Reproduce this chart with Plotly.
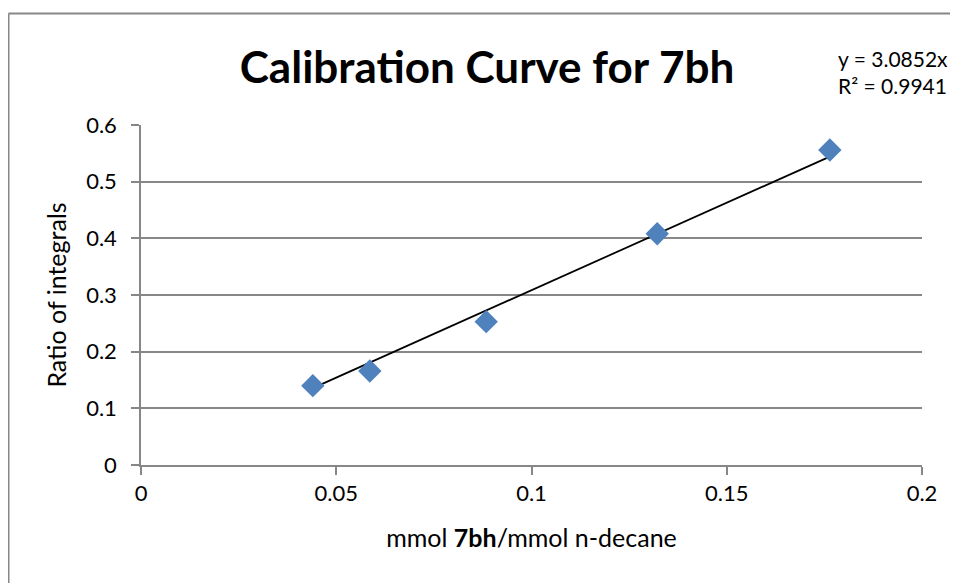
import plotly.graph_objects as go

x_vals = [0.0440, 0.0586, 0.0884, 0.1322, 0.1764]
y_vals = [0.140, 0.166, 0.253, 0.408, 0.556]
slope = 3.0852
r2 = 0.9941
x_ticks = [0, 0.05, 0.1, 0.15, 0.2]
x_tick_labels = ["0", "0.05", "0.1", "0.15", "0.2"]
y_ticks = [0, 0.1, 0.2, 0.3, 0.4, 0.5, 0.6]
y_tick_labels = ["0", "0.1", "0.2", "0.3", "0.4", "0.5", "0.6"]

FONT = "Lato, Carlito, Calibri, sans-serif"
GRAY = "#878787"
OFF = 8  # page body offset

fig = go.Figure()
trend_x = [min(x_vals), max(x_vals)]
trend_y = [slope * v for v in trend_x]
fig.add_trace(go.Scatter(x=trend_x, y=trend_y, mode="lines",
                         line=dict(color="black", width=1.75), showlegend=False))
fig.add_trace(go.Scatter(x=x_vals, y=y_vals, mode="markers",
                         marker=dict(symbol="diamond", size=18, color="#4F81BD",
                                     line=dict(width=0)), showlegend=False))

bx0 = (8.5 - 141) / 781
by1 = (465 - 13.5) / 340

fig.update_layout(
    width=958, height=583,
    margin=dict(l=141 - OFF, r=958 - 781 - (141 - OFF), t=125 - OFF, b=583 - 340 - (125 - OFF)),
    paper_bgcolor="white", plot_bgcolor="white",
    font=dict(family=FONT, size=22, color="black"),
    title=dict(text="<b>Calibration Curve for 7bh</b>", x=(487 - OFF) / 958, xanchor="center",
               y=1 - (68 - OFF) / 583, yanchor="middle", font=dict(size=44, family=FONT)),
    xaxis=dict(range=[0, 0.2], tickvals=x_ticks, ticktext=x_tick_labels,
               showgrid=False, zeroline=False, showline=True, linecolor=GRAY, linewidth=1.5,
               ticks="outside", ticklen=8, tickcolor=GRAY, tickwidth=1.5,
               tickfont=dict(size=22),
               title=dict(text="mmol <b>7bh</b>/mmol n-decane", standoff=24,
                          font=dict(size=25))),
    yaxis=dict(range=[0, 0.6], tickvals=y_ticks, ticktext=y_tick_labels,
               showgrid=True, gridcolor=GRAY, gridwidth=1.5, zeroline=False,
               showline=True, linecolor=GRAY, linewidth=1.5,
               ticks="outside", ticklen=8, tickcolor=GRAY, tickwidth=1.5,
               tickfont=dict(size=22), ticklabelstandoff=10,
               title=dict(text="Ratio of integrals", standoff=12, font=dict(size=25))),
    shapes=[
        dict(type="line", xref="paper", yref="paper", x0=bx0, x1=1.4, y0=by1, y1=by1,
             line=dict(color=GRAY, width=2), layer="below"),
        dict(type="line", xref="paper", yref="paper", x0=bx0, x1=bx0, y0=-0.6, y1=by1,
             line=dict(color=GRAY, width=2), layer="below"),
    ],
    annotations=[dict(text=f"y = {slope}x<br>R² = {r2}", xref="paper", yref="paper",
                      x=(836 - 141) / 781, y=(465 - 72) / 340, xanchor="left", yanchor="middle",
                      align="left", showarrow=False, font=dict(size=21, family=FONT))],
)

fig.write_html("out.html")
